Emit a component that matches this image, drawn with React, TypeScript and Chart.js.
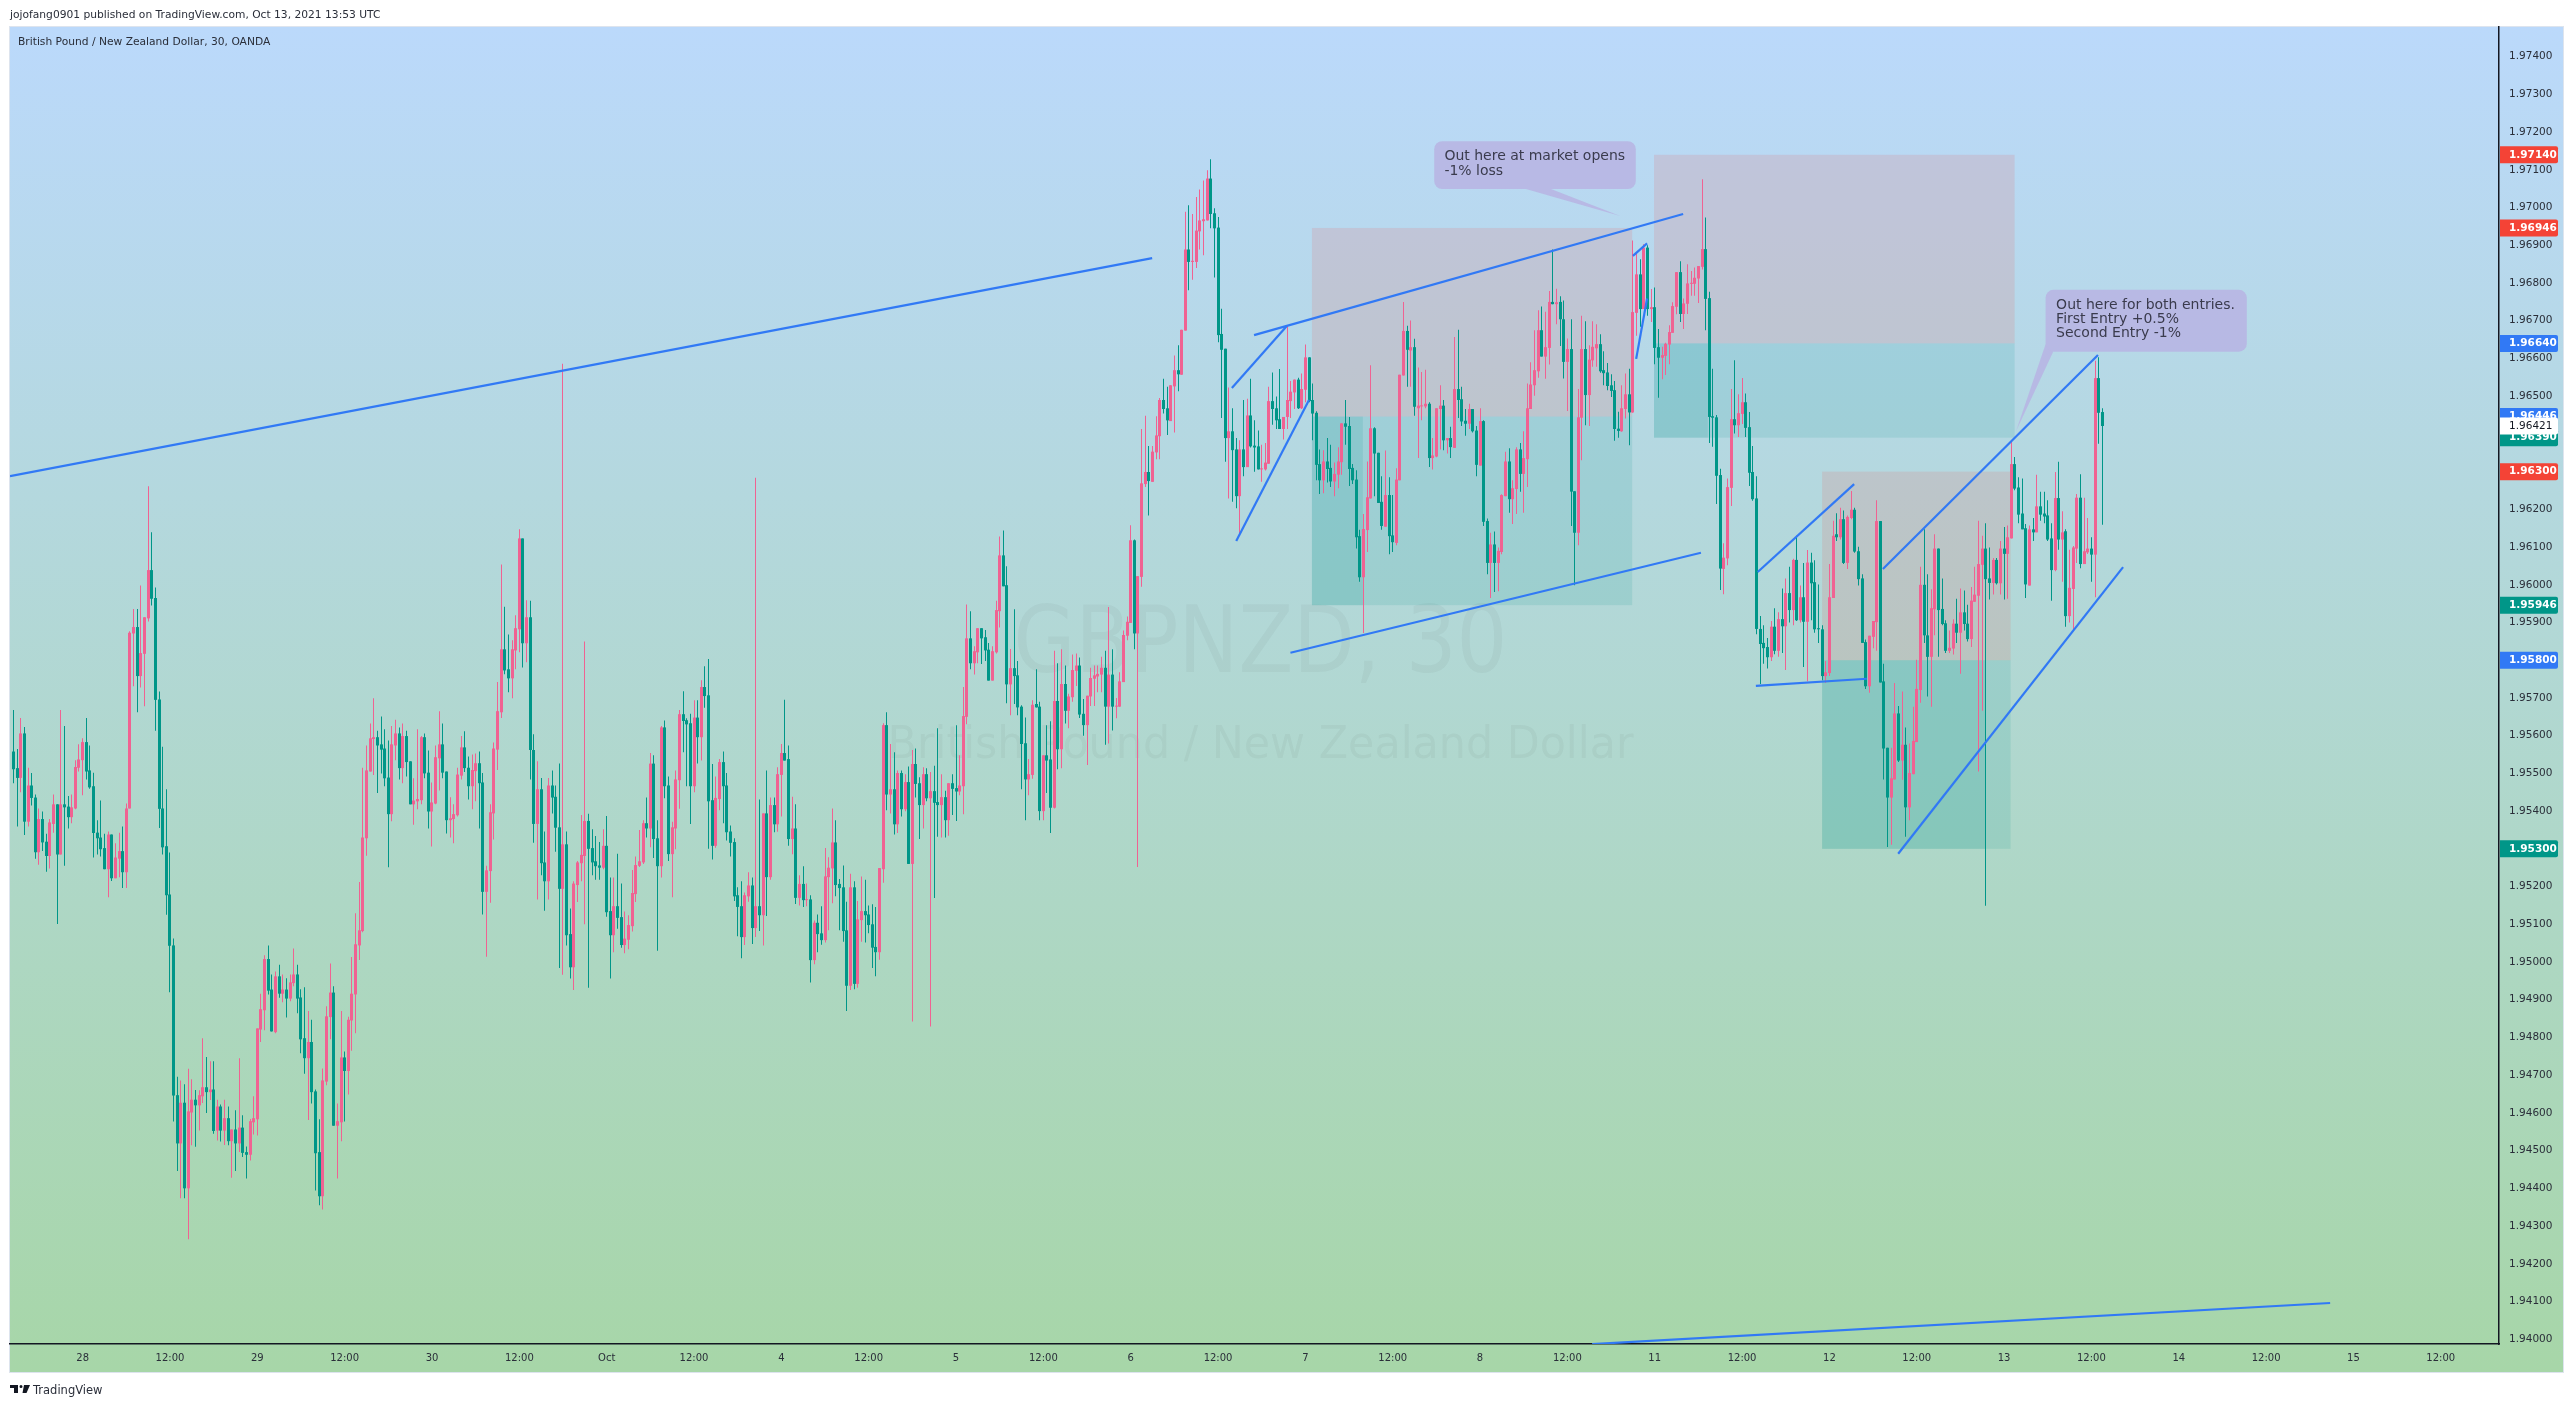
import React, { useEffect, useRef } from "react";
import { Chart, registerables } from "chart.js";

Chart.register(...registerables);

// candle values, in points above 1.94000 (1 point = 0.00001)
const opens = [
  1558,1514,1488,1606,1372,1468,1436,1291,1379,1319,1281,1366,1418,1285,1418,1412,1384,1407,1515,1535,1583,1508,1466,1343,1330,
  1302,1246,1338,1222,1274,1294,1238,1407,1871,1888,1758,1817,1911,2039,1965,1696,1407,1307,1179,1044,647,519,627,400,601,
  635,620,644,668,655,662,553,617,553,586,525,556,519,561,496,489,575,583,821,872,1008,927,814,962,916,
  927,903,944,967,906,798,745,788,657,496,379,683,854,919,566,575,747,711,845,914,1044,1082,1328,1505,1591,
  1596,1577,1566,1489,1392,1574,1606,1514,1599,1532,1418,1426,1429,1596,1502,1399,1420,1540,1577,1505,1376,1379,1389,1494,1569,
  1515,1466,1506,1527,1476,1186,1241,1394,1563,1662,1829,1776,1752,1826,1882,2123,1845,1914,1562,1366,1458,1264,1214,1468,1438,
  1357,1194,1312,1074,986,1204,1262,1281,1374,1302,1267,1256,1250,1308,1135,1071,1148,1119,1045,1059,1095,1180,1255,1264,1368,
  1354,1526,1328,1254,1622,1468,1286,1354,1482,1657,1641,1633,1466,1648,1596,1729,1707,1429,1308,1432,1530,1468,1346,1318,1177,
  1148,1066,1174,1203,1090,1148,1124,1394,1225,1416,1365,1496,1554,1538,1326,1354,1170,1207,1164,1166,1005,1104,1076,1058,1225,
  1248,1317,1207,1198,1084,937,1198,942,1111,1135,1126,1100,1040,1026,1246,1628,1444,1458,1365,1501,1405,1477,1260,1525,1474,
  1416,1498,1434,1453,1424,1416,1437,1376,1474,1461,1452,1466,1650,1858,1792,1821,1885,1861,1828,1746,1821,1930,2078,1999,1736,
  1779,1760,1677,1580,1484,1496,1684,1677,1400,1548,1537,1409,1692,1564,1737,1666,1702,1772,1786,1658,1628,1704,1751,1757,1762,
  1780,1677,1762,1677,1677,1742,1865,1899,2118,1871,2021,2267,2299,2273,2351,2394,2490,2468,2434,2526,2569,2557,2674,2889,2856,
  2856,2937,2964,2966,3077,2985,2947,2665,2626,2389,2407,2359,2235,2359,2312,2449,2369,2367,2306,2306,2321,2487,2468,2439,2413,
  2445,2487,2510,2544,2468,2517,2603,2490,2456,2320,2277,2327,2310,2274,2292,2325,2428,2421,2310,2279,2129,2020,2145,2229,2415,
  2350,2220,2154,2238,2131,2111,2277,2555,2673,2621,2630,2468,2473,2473,2480,2336,2340,2466,2475,2383,2389,2363,2519,2492,2435,
  2427,2466,2409,2316,2434,2169,2058,2107,2058,2087,2235,2327,2227,2254,2359,2294,2333,2466,2529,2566,2675,2605,2628,2750,2744,
  2750,2704,2591,2625,2248,2138,2443,2625,2503,2595,2627,2638,2569,2563,2529,2516,2414,2407,2466,2505,2457,2721,2823,2731,2894,
  2731,2736,2630,2602,2607,2637,2668,2737,2829,2718,2745,2798,2798,2812,2843,2890,2760,2447,2444,2291,2042,2070,2257,2439,2423,
  2453,2484,2418,2299,2229,1883,1846,1835,1808,1889,1825,1909,1890,1978,1933,2066,1906,1967,1902,2059,2007,1885,1882,1758,1766,
  1965,2134,2126,2174,2058,2177,2199,2089,2017,1848,1731,1862,1901,2169,1744,1568,1436,1484,1659,1534,1576,1410,1498,1583,1721,
  2000,1866,1809,1935,2096,1936,1898,1825,1831,1897,1873,1927,1897,1856,1955,1971,2053,2096,2017,2005,2066,2004,2096,2082,2123,
  2320,2258,2189,2150,1998,2147,2139,2208,2189,2184,2123,2039,2230,2120,2142,1917,1989,2096,2231,2055,2086,2096,2080,2548,2458,
];
const closes = [
  1511,1488,1606,1372,1468,1435,1291,1379,1317,1281,1370,1418,1285,1418,1410,1384,1410,1517,1537,1583,1505,1463,1342,1328,1299,
  1246,1338,1222,1277,1294,1238,1407,1873,1888,1758,1819,1914,2039,1963,1695,1406,1304,1177,1043,646,519,627,400,604,635,
  620,647,668,655,662,552,617,553,586,525,556,519,561,494,489,578,586,824,875,1008,924,816,962,916,927,
  903,946,967,903,795,745,788,655,493,379,686,856,919,566,578,747,711,847,916,1047,1084,1330,1508,1593,1596,
  1574,1563,1487,1392,1577,1606,1514,1599,1530,1418,1428,1432,1596,1500,1399,1423,1543,1577,1502,1376,1381,1392,1497,1569,1514,
  1466,1509,1527,1474,1186,1243,1397,1566,1665,1829,1773,1752,1829,1885,2123,1845,1914,1562,1366,1458,1262,1214,1468,1436,1356,
  1194,1312,1071,986,1208,1264,1284,1374,1300,1264,1254,1250,1308,1132,1071,1148,1117,1045,1062,1098,1183,1257,1267,1368,1354,
  1526,1326,1254,1622,1466,1286,1357,1484,1657,1639,1630,1466,1648,1596,1729,1705,1426,1308,1435,1530,1466,1344,1316,1174,1146,
  1066,1177,1203,1090,1148,1124,1394,1225,1416,1365,1498,1554,1534,1326,1354,1170,1207,1164,1166,1005,1104,1074,1058,1227,1250,
  1317,1204,1196,1082,937,1198,942,1113,1135,1124,1098,1038,1026,1249,1628,1444,1458,1365,1501,1405,1477,1260,1525,1472,1416,
  1498,1434,1453,1422,1416,1437,1376,1474,1459,1452,1468,1652,1858,1792,1824,1885,1858,1826,1746,1824,1933,2078,1996,1736,1779,
  1758,1675,1578,1484,1498,1682,1675,1400,1548,1534,1409,1692,1564,1737,1666,1704,1774,1786,1656,1628,1706,1753,1760,1764,1780,
  1677,1762,1677,1679,1744,1867,1902,2118,1871,2023,2269,2299,2275,2353,2396,2490,2466,2436,2529,2569,2558,2676,2889,2856,2859,
  2939,2966,2969,3077,2983,2945,2662,2623,2389,2407,2357,2235,2359,2312,2449,2367,2364,2306,2308,2324,2487,2466,2436,2413,2445,
  2490,2512,2544,2468,2519,2603,2487,2454,2318,2277,2327,2307,2274,2294,2327,2428,2419,2307,2277,2126,2020,2148,2232,2415,2348,
  2217,2156,2238,2129,2113,2279,2557,2673,2623,2630,2472,2475,2475,2480,2336,2343,2468,2475,2383,2389,2365,2519,2490,2433,2427,
  2466,2407,2318,2434,2167,2058,2107,2058,2090,2238,2327,2227,2256,2359,2294,2336,2468,2531,2569,2675,2605,2630,2750,2744,2749,
  2704,2591,2625,2247,2138,2444,2625,2503,2597,2631,2638,2566,2561,2527,2514,2413,2408,2468,2505,2457,2723,2823,2731,2894,2731,
  2736,2628,2602,2609,2639,2670,2739,2829,2718,2746,2799,2800,2814,2845,2890,2758,2445,2443,2289,2043,2072,2259,2439,2423,2455,
  2484,2416,2297,2227,1883,1843,1832,1808,1889,1825,1909,1890,1978,1933,2066,1906,1967,1902,2059,2004,1882,1882,1758,1768,1967,
  2130,2126,2174,2058,2180,2199,2088,2015,1846,1731,1865,1904,2169,1741,1566,1436,1487,1659,1534,1576,1410,1501,1586,1724,2000,
  1866,1809,1938,2096,1933,1896,1825,1833,1897,1873,1927,1896,1856,1958,1974,2055,2096,2015,2005,2066,2004,2096,2082,2126,2320,
  2255,2186,2147,2001,2147,2139,2208,2186,2181,2120,2039,2230,2120,2139,1917,1992,2099,2231,2055,2089,2096,2080,2548,2456,2421,
];
const highs = [
  1668,1565,1647,1623,1515,1501,1444,1407,1399,1340,1379,1444,1418,1668,1626,1440,1444,1535,1577,1593,1647,1574,1502,1376,1428,
  1340,1346,1338,1315,1343,1359,1420,1877,1936,1936,1998,1914,2261,2139,1993,1717,1571,1458,1290,1062,696,686,676,717,689,
  661,660,798,748,737,737,635,622,635,617,556,607,745,594,511,584,644,824,916,1018,1044,967,975,993,967,
  957,967,1036,993,928,933,870,847,662,583,718,883,996,936,625,870,763,855,1013,1129,1212,1515,1574,1632,1699,
  1613,1651,1617,1587,1626,1642,1622,1632,1613,1532,1487,1617,1599,1606,1561,1476,1574,1665,1632,1505,1437,1418,1515,1599,1612,
  1545,1550,1553,1558,1501,1255,1418,1582,1742,2054,1942,1868,1853,1919,2147,2123,1959,1958,1604,1532,1488,1346,1488,1508,1468,
  1526,2586,1346,1142,1214,1268,1390,1850,1393,1352,1334,1318,1352,1387,1224,1224,1287,1208,1134,1124,1244,1280,1350,1376,1436,
  1554,1548,1376,1626,1640,1492,1372,1508,1668,1718,1646,1658,1694,1694,1747,1784,1803,1525,1492,1538,1558,1501,1362,1328,1198,
  1214,1184,1238,1224,2284,1431,1394,1508,1436,1436,1516,1578,1695,1574,1438,1418,1230,1254,1208,1177,1110,1126,1148,1302,1278,
  1407,1376,1220,1256,1160,1234,1214,1162,1227,1218,1150,1153,1146,1249,1633,1662,1578,1556,1508,1508,1498,1518,1562,1566,1490,
  1516,1514,1504,1520,1620,1498,1454,1474,1498,1628,1548,1729,1948,1930,1837,1885,1885,1880,1846,1837,1958,2128,2144,2049,1830,
  1935,1798,1681,1648,1538,1694,1776,1690,1548,1628,1638,1825,1792,1829,1786,1711,1815,1818,1807,1697,1706,1780,1786,1786,1809,
  1825,1941,1829,1700,1768,1879,1916,2158,2120,2023,2413,2448,2368,2368,2447,2495,2546,2525,2529,2608,2635,2676,2989,3006,2983,
  3028,3048,3072,3099,3128,2998,2975,2732,2626,2523,2468,2389,2383,2490,2493,2546,2436,2409,2371,2376,2525,2563,2499,2572,2445,
  2685,2540,2544,2549,2560,2637,2603,2534,2460,2359,2357,2389,2371,2324,2365,2428,2490,2445,2320,2304,2146,2188,2327,2582,2418,
  2350,2288,2356,2285,2238,2309,2557,2750,2687,2701,2652,2576,2564,2570,2484,2389,2468,2529,2490,2389,2419,2657,2676,2525,2466,
  2480,2466,2421,2468,2436,2176,2138,2141,2099,2240,2353,2362,2277,2365,2376,2407,2534,2590,2675,2728,2738,2724,2779,2889,2785,
  2765,2754,2653,2704,2248,2519,2713,2699,2635,2699,2691,2664,2619,2588,2558,2540,2459,2529,2560,2573,2913,2878,2863,2903,2900,
  2784,2788,2678,2631,2642,2688,2749,2829,2858,2759,2850,2832,2841,2845,3075,2974,2777,2573,2450,2308,2110,2282,2519,2595,2505,
  2548,2507,2458,2368,2288,1917,1893,1859,1904,1938,1927,1990,2017,2048,2069,2130,1998,2058,2092,2085,2065,2001,1893,1798,2055,
  2170,2190,2204,2197,2184,2249,2204,2101,2028,1855,1865,1904,2224,2169,1791,1568,1568,1740,1679,1717,1622,1579,1677,1801,2048,
  2147,2028,1988,2134,2096,2017,1906,1879,1909,1963,1990,1985,1947,1994,2048,2170,2130,2163,2099,2071,2071,2116,2153,2157,2383,
  2339,2285,2282,2161,2157,2177,2292,2247,2247,2224,2163,2299,2326,2195,2147,2093,2103,2241,2293,2231,2177,2126,2594,2603,2468,
];
const lows = [
  1474,1359,1450,1337,1359,1415,1274,1258,1294,1239,1248,1343,1101,1285,1255,1354,1368,1405,1505,1442,1484,1459,1277,1285,1280,
  1246,1172,1215,1222,1225,1196,1196,1407,1731,1662,1728,1678,1903,1945,1613,1355,1285,1125,920,577,446,374,374,265,514,
  510,553,626,600,634,545,527,524,515,514,428,446,496,483,426,474,543,540,788,819,914,816,811,905,893,
  853,896,936,864,758,704,581,625,394,355,344,673,795,566,426,525,577,649,765,811,1005,1079,1282,1505,1496,
  1448,1500,1466,1251,1373,1535,1484,1474,1492,1418,1364,1405,1418,1487,1354,1306,1418,1455,1487,1341,1330,1315,1386,1484,1504,
  1431,1405,1426,1354,1126,1014,1157,1325,1509,1647,1763,1715,1699,1776,1821,1781,1795,1484,1316,1166,1230,1136,1166,1394,1292,
  984,966,1044,956,926,1159,1214,1100,932,1230,1218,1218,1246,1120,956,1026,1088,1038,1023,1034,1081,1159,1252,1260,1330,
  1304,1276,1030,1224,1434,1268,1172,1299,1406,1556,1466,1366,1450,1526,1534,1674,1300,1272,1303,1402,1368,1322,1280,1162,1068,
  1010,1045,1160,1048,1066,1082,1044,1122,1218,1344,1345,1386,1534,1308,1286,1154,1150,1146,1148,946,994,1026,1046,1052,1084,
  1156,1174,1084,1054,870,926,928,932,1054,1052,1076,984,962,1006,1210,1402,1394,1338,1342,1386,1400,1260,842,1436,1326,
  1354,1426,829,1170,1332,1330,1330,1335,1390,1374,1442,1392,1630,1776,1762,1792,1790,1798,1746,1746,1818,1887,1996,1686,1654,
  1684,1654,1458,1376,1442,1486,1675,1376,1376,1448,1342,1407,1511,1514,1632,1620,1690,1732,1647,1600,1522,1679,1679,1715,1715,
  1576,1579,1614,1646,1677,1742,1853,1899,1829,1252,1995,2259,2184,2273,2333,2333,2454,2397,2434,2404,2513,2557,2674,2781,2809,
  2840,2889,2874,2966,2945,2815,2643,2442,2326,2229,2220,2203,2132,2288,2312,2364,2300,2306,2273,2303,2321,2424,2413,2413,2385,
  2413,2442,2466,2466,2466,2484,2484,2383,2277,2241,2243,2271,2259,2235,2256,2292,2371,2262,2267,2096,2008,1872,2087,2229,2235,
  2217,2146,2154,2081,2087,2105,2277,2555,2525,2525,2448,2336,2436,2468,2312,2306,2338,2359,2357,2348,2336,2363,2442,2421,2395,
  2413,2404,2288,2316,2156,2028,1965,1981,1983,2081,2235,2191,2161,2188,2247,2191,2259,2466,2501,2549,2605,2546,2584,2744,2691,
  2633,2547,2461,2156,1999,2105,2330,2423,2421,2578,2578,2562,2529,2516,2498,2382,2390,2406,2441,2370,2456,2660,2684,2731,2713,
  2697,2585,2496,2545,2556,2585,2668,2717,2697,2678,2718,2766,2766,2747,2836,2675,2376,2366,2214,1986,1975,2052,2209,2401,2392,
  2426,2392,2262,2223,1869,1737,1791,1778,1798,1816,1809,1819,1774,1900,1893,1904,1900,1782,1744,1906,1873,1846,1747,1740,1758,
  1965,2116,2120,2055,2042,2174,2085,1998,1846,1724,1714,1832,1825,1741,1484,1305,1311,1484,1530,1483,1332,1376,1498,1583,1687,
  1846,1704,1677,1866,1809,1893,1819,1819,1815,1846,1764,1879,1850,1835,1955,1505,1666,1149,1961,1974,2001,1974,1961,1963,2123,
  2251,2163,2147,1965,1998,2116,2139,2170,2163,2116,1958,2036,2093,2008,1889,1900,1879,2058,2044,2055,2082,2008,1967,2374,2159,
];

const timeLabels = ["28","12:00","29","12:00","30","12:00","Oct","12:00","4","12:00","5","12:00","6","12:00","7","12:00","8","12:00","11","12:00","12","12:00","13","12:00","14","12:00","15","12:00"];
const firstLabelBar = 19;
const barsPerLabel = 24;
const priceTicks = [1.94,1.941,1.942,1.943,1.944,1.945,1.946,1.947,1.948,1.949,1.95,1.951,1.952,1.953,1.954,1.955,1.956,1.957,1.958,1.959,1.96,1.961,1.962,1.963,1.964,1.965,1.966,1.967,1.968,1.969,1.97,1.971,1.972,1.973,1.974];

// drawn lines as [bar, bar] and [price, price]
const trendBars = [[-0.96,312.9],[433.8,636.6],[340.9,458.8],[334.8,349.9],[336,356],[350.9,463.7],[445,448.9],[445.9,448.9],[479.3,505.8],[478.8,509.3],[513.7,572.8],[517.9,579.7]];
const trendPrices = [[1.96288,1.96866],[1.93987,1.94096],[1.96662,1.96983],[1.96522,1.96686],[1.96116,1.9649],[1.9582,1.96085],[1.96872,1.96905],[1.96599,1.96759],[1.96034,1.96267],[1.95732,1.95751],[1.96042,1.96609],[1.95287,1.96047]];

// position tools: stop side top, entry, target side bottom
const zoneBars = [[356.8,444.8],[450.8,549.9],[497,548.8]];
const zonePrices = [[1.96946,1.96446,1.95946],[1.9714,1.9664,1.9639],[1.963,1.958,1.953]];
const zoneFilledTo = [370.8,465.6,541.8];

const badgePrices = [1.9714,1.96946,1.9664,1.96446,1.9639,1.96421,1.963,1.95946,1.958,1.953];
const badgeColors = ["#f44336","#f44336","#3179f5","#3179f5","#009688","#ffffff","#f44336","#009688","#3179f5","#009688"];

const noteLines = [["Out here at market opens","-1% loss"],["Out here for both entries.","First Entry +0.5%","Second Entry -1%"]];
const noteBars = [[390.4,445.8],[558.4,613.7]];
const notePrices = [[1.97176,1.97049],[1.96782,1.96618]];
const noteTextBar = [393.2,561.3];
const noteTextPrice = [1.97135,1.96742];
const notePointers = [
  [[415.6,1.97049],[422.5,1.97049],[441.5,1.96978]],
  [[558.4,1.96638],[560.5,1.96618],[550.3,1.96408]],
];

const UP = "#f06292";
const DOWN = "#009688";
const FONT = '"DejaVu Sans"';
const toPrice = (v: number) => 1.94 + v / 100000;
const barColors = closes.map((c, i) => (c >= opens[i] ? UP : DOWN));

const backdrop = {
  id: "backdrop",
  beforeDraw(chart: any) {
    const { ctx } = chart;
    const g = ctx.createLinearGradient(0, 27, 0, 1372);
    g.addColorStop(0, "#bbd9fb");
    g.addColorStop(1, "#a7d6a8");
    ctx.save();
    ctx.fillStyle = g;
    ctx.fillRect(10, 27, 2553, 1345);
    ctx.strokeStyle = "#dde4ee";
    ctx.strokeRect(9.5, 26.5, 2554, 1346);
    ctx.restore();
  },
  beforeDatasetsDraw(chart: any) {
    const { ctx, scales, chartArea } = chart;
    const x = scales.x;
    const y = scales.y;
    // keep wicks and bodies on whole pixels, the way the platform paints them
    chart.data.datasets.forEach((d: any, i: number) => {
      if (d.type === "line") return;
      chart.getDatasetMeta(i).data.forEach((el: any) => {
        el.x = Math.round(el.x - 0.5) + 0.5;
      });
    });
    ctx.save();
    ctx.fillStyle = "rgba(19,23,34,0.04)";
    ctx.textAlign = "center";
    ctx.textBaseline = "alphabetic";
    const mid = (chartArea.left + chartArea.right) / 2 + 6;
    ctx.font = `92px ${FONT}`;
    ctx.fillText("GBPNZD, 30", mid, 672, 494);
    ctx.font = `45px ${FONT}`;
    ctx.fillText("British Pound / New Zealand Dollar", mid, 758, 746);
    ctx.textAlign = "left";
    ctx.fillStyle = "#2a2e39";
    ctx.font = `10.7px ${FONT}`;
    ctx.textBaseline = "middle";
    ctx.fillText("British Pound / New Zealand Dollar, 30, OANDA", 18, 42);

    zoneBars.forEach((bars, i) => {
      const x0 = x.getPixelForValue(bars[0]);
      const x1 = x.getPixelForValue(bars[1]);
      const top = y.getPixelForValue(zonePrices[i][0]);
      const midY = y.getPixelForValue(zonePrices[i][1]);
      const bottom = y.getPixelForValue(zonePrices[i][2]);
      ctx.fillStyle = "rgba(244,67,54,0.125)";
      ctx.fillRect(x0, top, x1 - x0, midY - top);
      ctx.fillStyle = "rgba(0,150,136,0.12)";
      ctx.fillRect(x0, midY, x1 - x0, bottom - midY);
      ctx.fillRect(x0, midY, x.getPixelForValue(zoneFilledTo[i]) - x0, bottom - midY);
    });
    ctx.restore();
  },
  afterDatasetsDraw(chart: any) {
    const { ctx, scales } = chart;
    const x = scales.x;
    const y = scales.y;
    ctx.save();
    noteLines.forEach((lines, i) => {
      ctx.fillStyle = "rgba(183,183,228,0.95)";
      const pts = notePointers[i];
      ctx.beginPath();
      ctx.moveTo(x.getPixelForValue(pts[0][0]), y.getPixelForValue(pts[0][1]));
      ctx.lineTo(x.getPixelForValue(pts[1][0]), y.getPixelForValue(pts[1][1]));
      ctx.lineTo(x.getPixelForValue(pts[2][0]), y.getPixelForValue(pts[2][1]));
      ctx.closePath();
      ctx.fill();
      const left = x.getPixelForValue(noteBars[i][0]);
      const top = y.getPixelForValue(notePrices[i][0]);
      ctx.beginPath();
      ctx.roundRect(left, top, x.getPixelForValue(noteBars[i][1]) - left, y.getPixelForValue(notePrices[i][1]) - top, 8);
      ctx.fill();
      ctx.fillStyle = "#3a3b4d";
      ctx.font = `14px ${FONT}`;
      ctx.textBaseline = "middle";
      lines.forEach((t, j) => {
        ctx.fillText(t, x.getPixelForValue(noteTextBar[i]), y.getPixelForValue(noteTextPrice[i]) + j * 14.3);
      });
    });
    ctx.restore();
  },
  afterDraw(chart: any) {
    const { ctx, scales, chartArea } = chart;
    const y = scales.y;
    ctx.save();
    ctx.textBaseline = "middle";
    badgePrices.forEach((p, i) => {
      const cy = y.getPixelForValue(p);
      const white = badgeColors[i] === "#ffffff";
      ctx.fillStyle = badgeColors[i];
      ctx.beginPath();
      ctx.roundRect(chartArea.right + 1, cy - 8.5, 58, 17, [0, 2, 2, 0]);
      ctx.fill();
      ctx.fillStyle = white ? "#131722" : "#ffffff";
      ctx.font = `${white ? "" : "bold "}10.5px ${FONT}`;
      ctx.fillText(p.toFixed(5), chartArea.right + 10, cy);
    });
    ctx.restore();
  },
};

const App: React.FC = () => {
  const canvasRef = useRef<HTMLCanvasElement | null>(null);

  useEffect(() => {
    if (!canvasRef.current) return;
    const bars = opens.map((_, i) => i);
    const trendSets = trendBars.map((b, i) => ({
      type: "line",
      data: [
        { x: b[0], y: trendPrices[i][0] },
        { x: b[1], y: trendPrices[i][1] },
      ],
      borderColor: "#3179f5",
      borderWidth: 2.2,
      pointRadius: 0,
      order: 0,
    }));
    const chart = new Chart(canvasRef.current, {
      type: "bar",
      data: {
        datasets: [
          ...trendSets,
          {
            data: bars.map((i) => ({ x: i, y: [toPrice(opens[i]), toPrice(closes[i])] })),
            backgroundColor: barColors,
            barThickness: 3,
            minBarLength: 1,
            grouped: false,
            inflateAmount: 0,
            borderWidth: 0,
            order: 1,
          },
          {
            data: bars.map((i) => ({ x: i, y: [toPrice(lows[i]), toPrice(highs[i])] })),
            backgroundColor: barColors,
            barThickness: 1,
            grouped: false,
            inflateAmount: 0,
            borderWidth: 0,
            order: 2,
          },
        ],
      } as any,
      options: {
        responsive: false,
        animation: false,
        devicePixelRatio: 1,
        events: [],
        layout: { padding: { left: 10, right: 10, top: 27, bottom: 35 } },
        plugins: { legend: { display: false }, tooltip: { enabled: false } },
        scales: {
          x: {
            type: "linear",
            min: -0.96,
            max: 683,
            offset: false,
            grid: { display: false, offset: false, drawTicks: false },
            border: { color: "#131722", width: 1.5 },
            ticks: {
              autoSkip: false,
              maxRotation: 0,
              padding: 8,
              color: "#2a2e39",
              font: { family: FONT, size: 10 },
              callback: (_: any, i: number) => timeLabels[i],
            },
            afterBuildTicks: (axis: any) => {
              axis.ticks = timeLabels.map((_, j) => ({ value: firstLabelBar + j * barsPerLabel }));
            },
            afterFit: (axis: any) => {
              axis.height = 28;
            },
          },
          y: {
            position: "right",
            min: 1.939873,
            max: 1.974788,
            grid: { display: false, drawTicks: false },
            border: { color: "#131722", width: 1.5 },
            ticks: {
              padding: 10,
              color: "#2a2e39",
              font: { family: FONT, size: 10.5 },
              callback: (v: any) => Number(v).toFixed(5),
            },
            afterBuildTicks: (axis: any) => {
              axis.ticks = priceTicks.map((value) => ({ value }));
            },
            afterFit: (axis: any) => {
              axis.width = 64;
            },
          },
        },
      } as any,
      plugins: [backdrop],
    });
    return () => chart.destroy();
  }, []);

  return (
    <div style={{ position: "fixed", inset: 0, background: "#ffffff", fontFamily: FONT, color: "#2a2e39", overflow: "hidden" }}>
      <canvas ref={canvasRef} width={2573} height={1407} style={{ display: "block" }} />
      <div style={{ position: "absolute", left: 10, top: 9, fontSize: 10.7, lineHeight: "12px" }}>
        jojofang0901 published on TradingView.com, Oct 13, 2021 13:53 UTC
      </div>
      <svg width={20} height={9} viewBox="0 0 20 9" style={{ position: "absolute", left: 10, top: 1385 }}>
        <path d="M0 0h8v8H4V3H0zM12.5 1.5a1.5 1.5 0 1 1-3 0 1.5 1.5 0 0 1 3 0zM14 0h6l-3.5 8H12.500z" fill="#131722" />
      </svg>
      <div style={{ position: "absolute", left: 33, top: 1383, fontSize: 11.5, lineHeight: "14px" }}>TradingView</div>
    </div>
  );
};

export default App;
